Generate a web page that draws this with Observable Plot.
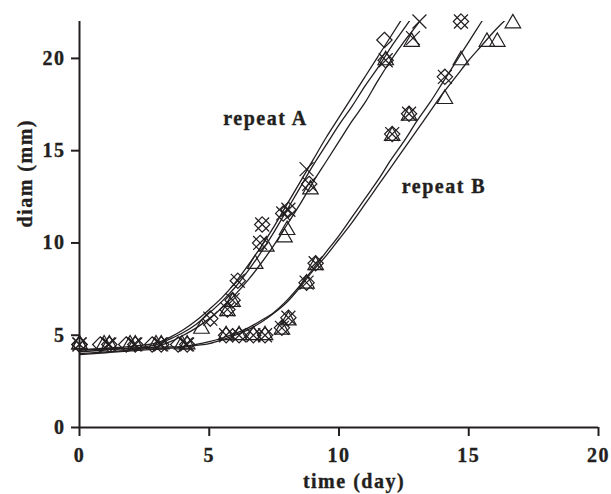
<!DOCTYPE html>
<html><head><meta charset="utf-8">
<script src="https://cdn.jsdelivr.net/npm/d3@7"></script>
<script src="https://cdn.jsdelivr.net/npm/@observablehq/plot@0.6"></script>
<style>
html,body{margin:0;padding:0;background:#fff;}
#chart svg text{letter-spacing:1.5px;stroke:#231f20;stroke-width:0.35px;}
</style></head><body><div id="chart"></div>
<script>
// ---- axes ----
const xTicks = [0, 5, 10, 15, 20];
const yTicks = [0, 5, 10, 15, 20];

// ---- repeat A markers ----
const earlyA_t = [0, 0.8, 1.8, 2.8, 3.8];
const earlyA_d = [4.5, 4.5, 4.5, 4.5, 4.5];
const earlyA3_t = [0, 0.95, 1.95, 2.95, 3.95];
const hatchA_t = [5.04, 5.7, 5.9, 6.1, 6.96, 7.04, 7.85, 8.05, 8.85, 11.8];
const hatchA_d = [5.9, 6.4, 6.9, 7.95, 10.0, 11.0, 11.6, 11.8, 13.2, 19.9];
const diamondA_t = [11.75];
const diamondA_d = [21.0];
const timesA_t = [8.75, 12.85, 13.1];
const timesA_d = [14.0, 21.1, 22.0];
const triA_t = [4.7, 5.7, 5.9, 6.77, 7.2, 7.9, 8.0, 8.9, 11.8, 12.8];
const triA_d = [5.35, 6.3, 6.8, 8.86, 9.8, 10.3, 10.7, 12.9, 19.9, 20.9];

// ---- repeat B markers ----
const earlyB_t = [0, 1.15, 2.15, 3.15, 4.15];
const earlyB_d = [4.5, 4.5, 4.5, 4.5, 4.5];
const hatchB_t = [5.65, 6.15, 6.7, 7.15, 7.8, 8.05, 8.75, 9.1, 12.05, 12.7, 14.08, 14.7];
const hatchB_d = [5.0, 5.0, 5.0, 5.0, 5.4, 5.95, 7.85, 8.9, 15.9, 17.0, 19.0, 22.0];
const triB_t = [5.65, 6.15, 6.7, 7.15, 7.8, 8.05, 8.75, 9.1, 12.05, 12.7, 14.08, 14.7, 15.7, 16.1, 16.7];
const triB_d = [5.0, 5.0, 5.0, 5.0, 5.3, 5.8, 7.8, 8.8, 15.8, 16.9, 17.8, 19.9, 20.9, 20.9, 21.9];

// ---- fitted curves ----
const curveA_t = [0, 1, 2, 3, 3.5, 4, 4.5, 5, 5.5, 6, 6.5, 7, 7.5, 8, 8.5, 9, 9.5, 10, 10.5, 11, 11.5, 12, 12.5, 13, 13.5];
const curveA1 = [4.2, 4.3, 4.4, 4.6, 4.9, 5.3, 5.8, 6.4, 7.05, 7.85, 8.8, 9.8, 10.9, 12.1, 13.3, 14.5, 15.7, 16.8, 17.9, 19.0, 20.1, 21.2, 22.3, 23.4, 24.5];
const curveA2 = [4.1, 4.2, 4.3, 4.5, 4.8, 5.15, 5.6, 6.2, 6.85, 7.6, 8.5, 9.5, 10.6, 11.8, 13.0, 14.2, 15.3, 16.4, 17.4, 18.5, 19.5, 20.6, 21.6, 22.6, 23.6];
const curveA3 = [4.0, 4.1, 4.2, 4.4, 4.65, 5.0, 5.4, 5.9, 6.5, 7.2, 8.0, 8.9, 9.9, 11.0, 12.1, 13.3, 14.4, 15.5, 16.6, 17.6, 18.8, 19.9, 20.9, 21.8, 22.8];
const curveB_t = [0, 1, 2, 3, 4, 4.5, 5, 5.5, 6, 6.5, 7, 7.5, 8, 8.5, 9, 9.5, 10, 10.5, 11, 11.5, 12, 12.5, 13, 13.5, 14, 14.5, 15, 15.5, 16, 16.5, 17];
const curveB1 = [4.2, 4.25, 4.3, 4.35, 4.4, 4.5, 4.65, 4.85, 5.1, 5.4, 5.8, 6.25, 6.9, 7.7, 8.6, 9.5, 10.4, 11.4, 12.4, 13.4, 14.5, 15.5, 16.6, 17.6, 18.7, 19.8, 20.9, 22.0, 23.1, 24.2, 25.3];
const curveB2 = [3.95, 4.05, 4.15, 4.25, 4.35, 4.45, 4.55, 4.75, 5.0, 5.3, 5.7, 6.2, 6.8, 7.6, 8.5, 9.3, 10.2, 11.1, 12.1, 13.1, 14.1, 15.1, 16.1, 17.1, 18.1, 19.0, 19.9, 20.7, 21.5, 22.2, 22.8];

// ---- annotations ----
const noteText = ["repeat A", "repeat B"];
const noteX = [5.54, 12.42];
const noteY = [16.38, 12.7];

const ink = "#231f20";
const pts = (ts, ds) => ts.map((t, i) => ({t, d: ds[i]}));

const diamonds = [...pts(earlyA_t, earlyA_d), ...pts(hatchA_t, hatchA_d), ...pts(diamondA_t, diamondA_d),
                  ...pts(earlyB_t, earlyB_d), ...pts(hatchB_t, hatchB_d)];
const timesPts = [...pts(earlyA_t.map(t => t === 0 ? 0 : t + 0.3), earlyA_d), ...pts(hatchA_t, hatchA_d), ...pts(timesA_t, timesA_d),
                  ...pts(earlyB_t, earlyB_d), ...pts(hatchB_t, hatchB_d)];
const triangles = [...pts(earlyA3_t, earlyA_d), ...pts(triA_t, triA_d),
                   ...pts(earlyB_t, earlyB_d), ...pts(triB_t, triB_d)];
const curves = [
  pts(curveA_t, curveA1), pts(curveA_t, curveA2), pts(curveA_t, curveA3),
  pts(curveB_t, curveB1), pts(curveB_t, curveB2)
];
const notes = noteText.map((s, i) => ({s, t: noteX[i], d: noteY[i]}));

const chart = Plot.plot({
  width: 611, height: 494,
  marginLeft: 79, marginRight: 13, marginTop: 21, marginBottom: 67,
  x: {domain: [0, 20]},
  y: {domain: [0, 22]},
  style: {fontFamily: "'Liberation Serif', 'Times New Roman', serif", fontSize: "20px", fontWeight: "bold", color: ink, background: "#fff"},
  marks: [
    Plot.axisX({ticks: xTicks, tickSize: 9, tickPadding: 11, strokeWidth: 2, stroke: ink, label: null, tickFormat: d => d}),
    Plot.axisY({ticks: yTicks, tickSize: 8, tickPadding: 6, strokeWidth: 2, stroke: ink, label: null, tickFormat: d => d}),
    Plot.ruleX([0], {strokeWidth: 2, stroke: ink}),
    Plot.ruleY([0], {strokeWidth: 2, stroke: ink}),
    ...curves.map(c => Plot.line(c, {x: "t", y: "d", curve: "monotone-x", stroke: ink, strokeWidth: 1.3, clip: true})),
    Plot.dot(diamonds, {x: "t", y: "d", symbol: "diamond2", r: 6.9, stroke: ink, strokeWidth: 1.2, fill: "none"}),
    Plot.dot(timesPts, {x: "t", y: "d", symbol: "times", r: 6.4, stroke: ink, strokeWidth: 1.2, fill: "none"}),
    Plot.dot(triangles, {x: "t", y: "d", symbol: "triangle2", r: 7.4, stroke: ink, strokeWidth: 1.2, fill: "none"}),
    Plot.text(notes, {x: "t", y: "d", text: "s", textAnchor: "start", lineAnchor: "bottom", fill: ink}),
    Plot.text(["time (day)"], {frameAnchor: "bottom", dx: 15, dy: 60, lineAnchor: "bottom", fill: ink}),
    Plot.text(["diam (mm)"], {frameAnchor: "left", rotate: -90, dx: -48, dy: 3, lineAnchor: "bottom", fill: ink})
  ]
});
document.getElementById("chart").appendChild(chart);
</script>
</body></html>
